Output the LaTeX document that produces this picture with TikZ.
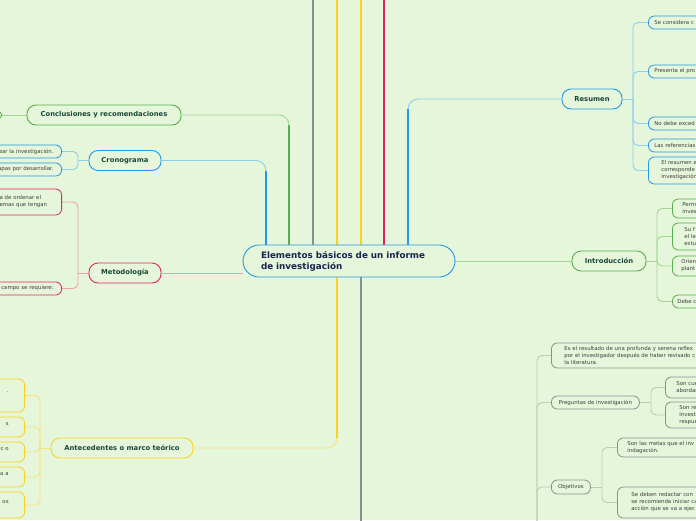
\documentclass[tikz,border=0pt]{standalone}
\usepackage{fontspec}
\setmainfont{DejaVu Sans}
\usetikzlibrary{backgrounds}
\definecolor{fundo}{RGB}{230,246,218}
\definecolor{azul}{RGB}{36,152,228}
\definecolor{azulclaro}{RGB}{140,205,240}
\definecolor{verde}{RGB}{88,174,78}
\definecolor{verdeclaro}{RGB}{160,214,146}
\definecolor{rosa}{RGB}{228,36,96}
\definecolor{rosaclaro}{RGB}{238,160,178}
\definecolor{amarelo}{RGB}{250,210,30}
\definecolor{amareloclaro}{RGB}{248,228,125}
\definecolor{cinza}{RGB}{142,142,142}
\definecolor{cinzaclaro}{RGB}{192,202,182}
\definecolor{textotema}{RGB}{26,72,56}
\definecolor{textocentro}{RGB}{22,36,80}
\definecolor{textofolha}{RGB}{62,62,62}
\tikzset{
  centro/.style={draw=azul, fill=fundo, line width=0.9pt, rounded corners=16pt, minimum height=32pt, inner xsep=18pt, text width=176pt, align=left, font=\fontsize{8.8}{11}\selectfont\bfseries, text=textocentro},
  tema/.style={draw=#1, fill=fundo, line width=0.9pt, rounded corners=9pt, minimum height=20pt, inner sep=0pt, font=\fontsize{6.8}{8}\selectfont\bfseries, text=textotema},
  folha/.style={draw=#1, fill=fundo, line width=0.8pt, rounded corners=6pt, inner ysep=0pt, font=\fontsize{5.4}{7}\selectfont, text=textofolha},
  tronco/.style={draw=#1, line width=2.2pt},
  ramo/.style={draw=#1, line width=0.9pt, rounded corners=5pt},
}

\begin{document}
\begin{tikzpicture}[x=1pt, y=-1pt]
  \path[use as bounding box] (0,0) rectangle (696,520);
  \clip (0,0) rectangle (696,520);

  % ---------------- nó central e ramos ----------------
  \node[centro] (centro) at (349,261) {Elementos básicos de un informe\\de investigación};
  \node[tema=verde, minimum width=154pt] (conclusiones) at (104,115) {Conclusiones y recomendaciones};
  \node[tema=azul, minimum width=72pt] (cronograma) at (125,160.5) {Cronograma};
  \node[tema=rosa, minimum width=72pt] (metodologia) at (125,273) {Metodología};
  \node[tema=amarelo, minimum width=142pt] (antecedentes) at (122,448) {Antecedentes o marco teórico};
  \node[tema=azul, minimum width=60pt] (resumen) at (592,99) {Resumen};
  \node[tema=verde, minimum width=74pt] (introduccion) at (609,261) {Introducción};

  % ---------------- folhas à direita (cortadas na borda) ----------------
  \foreach \n/\y/\t in {r1/22.5/{Se considera c}, r2/71.5/{Presenta el pro}, r3/123.5/{No debe exced}, r4/145.5/{Las referencias}}
    \node[folha=azul, anchor=west, minimum height=13pt, text width=60pt, align=left, inner xsep=6pt] (\n) at (648,\y) {\t};
  \node[folha=azul, anchor=west, minimum height=27pt, text width=50pt, align=left, inner xsep=13pt] (r5) at (648,170.5) {El resumen e\\corresponde\\investigación};

  \node[folha=verde, anchor=west, minimum height=19pt, text width=40pt, align=left, inner xsep=10pt] (i1) at (672,208.5) {Perm\\inves};
  \node[folha=verde, anchor=west, minimum height=27pt, text width=40pt, align=left, inner xsep=12pt] (i2) at (672,236.5) {Su f\\el le\\estu};
  \node[folha=verde, anchor=west, minimum height=20pt, text width=40pt, align=left, inner xsep=9pt] (i3) at (672,266) {Orien\\plant};
  \node[folha=verde, anchor=west, minimum height=13pt, text width=40pt, align=left, inner xsep=5pt] (i4) at (672,301.5) {Debe c};

  % subárvore cinza, o pai fica abaixo da figura
  \node[folha=cinza, anchor=west, minimum height=25pt, text width=150pt, align=left, inner xsep=13pt] (g1) at (551,355.5)
    {Es el resultado de una profunda y serena reflex\\por el investigador después de haber revisado c\\la literatura.};
  \node[folha=cinza, anchor=west, minimum height=13pt, minimum width=88pt] (preguntas) at (551,402.5) {Preguntas de investigación};
  \node[folha=cinza, anchor=west, minimum height=14pt, minimum width=39pt] (objetivos) at (551,487) {Objetivos};
  \node[folha=cinza, anchor=west, minimum height=21pt, text width=40pt, align=left, inner xsep=11pt] (p1) at (665,387.5) {Son cue\\abordar};
  \node[folha=cinza, anchor=west, minimum height=26pt, text width=40pt, align=left, inner xsep=14pt] (p2) at (665,415) {Son re\\investi\\respue};
  \node[folha=cinza, anchor=west, minimum height=19pt, text width=80pt, align=left, inner xsep=10pt] (o1) at (617,447.5) {Son las metas que el inv\\indagación.};
  \node[folha=cinza, anchor=west, minimum height=31pt, text width=80pt, align=left, inner xsep=14pt] (o2) at (617,502.5) {Se deben redactar con \\se recomienda iniciar ca\\acción que se va a ejec};

  % ---------------- folhas à esquerda (cortadas na borda) ----------------
  \node[folha=verde, anchor=east, minimum height=10pt, minimum width=30pt] (k1) at (2,115) {};
  \foreach \n/\c/\y/\t in {c1/azul/151.5/{zar la investigación.}, c2/azul/169.5/{apas por desarrollar.}, m2/rosa/288.5/{campo se requiere:}}
    \node[folha=\c, anchor=east, minimum height=13pt, text width=60pt, align=right, inner xsep=8pt] (\n) at (62,\y) {\t};
  \node[folha=rosa, anchor=east, minimum height=26pt, text width=54pt, align=left, inner xsep=8pt] (m1) at (62,202) {a de ordenar el\\emas que tengan};
  \foreach \n/\y/\h/\t in {a1/395.5/33/{.}, a2/427/20/{s}, a3/452/20/{c o}, a4/477/20/{a a}, a5/505/26/{os}}
    \node[folha=amarelo, anchor=east, minimum height=\h pt, text width=40pt, align=right, inner xsep=16pt] (\n) at (25,\y) {\t\\\mbox{}};

  % ---------------- conectores ----------------
  \begin{scope}[on background layer]
    \fill[fundo] (0,0) rectangle (696,520);
    \coordinate (xCro) at (266,0);
    \coordinate (xCon) at (289,0);
    \coordinate (xRes) at (408,0);
    \coordinate (xAnt) at (337,0);
    \coordinate (sobe1) at (313,-5);
    \coordinate (sobe2) at (337,-5);
    \coordinate (sobe3) at (361,-5);
    \coordinate (sobe4) at (384,-5);
    \coordinate (desce) at (361,530);
    \draw[tronco=cinza] (centro.north -| sobe1) -- (sobe1);
    \draw[tronco=amarelo] (centro.north -| sobe2) -- (sobe2);
    \draw[tronco=amarelo] (centro.north -| sobe3) -- (sobe3);
    \draw[tronco=rosa] (centro.north -| sobe4) -- (sobe4);
    \draw[tronco=cinza] (centro.south -| desce) -- (desce);
    % ramos com curva: fino e claro junto ao nó, grosso junto ao centro
    \draw[ramo=azulclaro, rounded corners=10pt] (centro.north -| xCro) |- (cronograma.east);
    \draw[tronco=azul, shorten >=10pt] (centro.north -| xCro) -- (xCro |- cronograma.east);
    \draw[ramo=verdeclaro, rounded corners=10pt] (centro.north -| xCon) |- (conclusiones.east);
    \draw[tronco=verde, shorten >=10pt] (centro.north -| xCon) -- (xCon |- conclusiones.east);
    \draw[ramo=azulclaro, rounded corners=10pt] (centro.north -| xRes) |- (resumen.west);
    \draw[tronco=azul, shorten >=10pt] (centro.north -| xRes) -- (xRes |- resumen.west);
    \draw[ramo=amareloclaro, rounded corners=10pt] (centro.south -| xAnt) |- (antecedentes.east);
    \draw[tronco=amarelo, shorten >=10pt] (centro.south -| xAnt) -- (xAnt |- antecedentes.east);
    \draw[ramo=verdeclaro] (centro.east) -- (introduccion.west);
    \draw[ramo=rosaclaro] (centro.west |- metodologia.east) -- (metodologia.east);
    \draw[ramo=verdeclaro] (conclusiones.west) -- (k1.east);

    % barras das folhas
    \coordinate (bRes) at (633,99);
    \draw[ramo=azulclaro] (resumen.east) -- (bRes);
    \foreach \n in {r1,r2,r3,r4,r5} \draw[ramo=azulclaro] (bRes) |- (\n.west);
    \coordinate (bInt) at (657,261);
    \draw[ramo=verdeclaro] (introduccion.east) -- (bInt);
    \foreach \n in {i1,i2,i3,i4} \draw[ramo=verdeclaro] (bInt) |- (\n.west);
    \coordinate (bCinza) at (537,530);
    \foreach \n in {g1,preguntas,objetivos} \draw[ramo=cinzaclaro] (bCinza) |- (\n.west);
    \coordinate (bPre) at (651,402.5);
    \draw[ramo=cinzaclaro] (preguntas.east) -- (bPre);
    \foreach \n in {p1,p2} \draw[ramo=cinzaclaro] (bPre) |- (\n.west);
    \coordinate (bObj) at (602,487);
    \draw[ramo=cinzaclaro] (objetivos.east) -- (bObj);
    \foreach \n in {o1,o2} \draw[ramo=cinzaclaro] (bObj) |- (\n.west);
    \coordinate (bCro) at (78,160.5);
    \draw[ramo=azulclaro] (cronograma.west) -- (bCro);
    \foreach \n in {c1,c2} \draw[ramo=azulclaro] (bCro) |- (\n.east);
    \coordinate (bMet) at (78,273);
    \draw[ramo=rosaclaro] (metodologia.west) -- (bMet);
    \foreach \n in {m1,m2} \draw[ramo=rosaclaro] (bMet) |- (\n.east);
    \coordinate (bAnt) at (40,448);
    \draw[ramo=amareloclaro] (antecedentes.west) -- (bAnt);
    \foreach \n in {a1,a2,a3,a4,a5} \draw[ramo=amareloclaro] (bAnt) |- (\n.east);
  \end{scope}
\end{tikzpicture}
\end{document}
